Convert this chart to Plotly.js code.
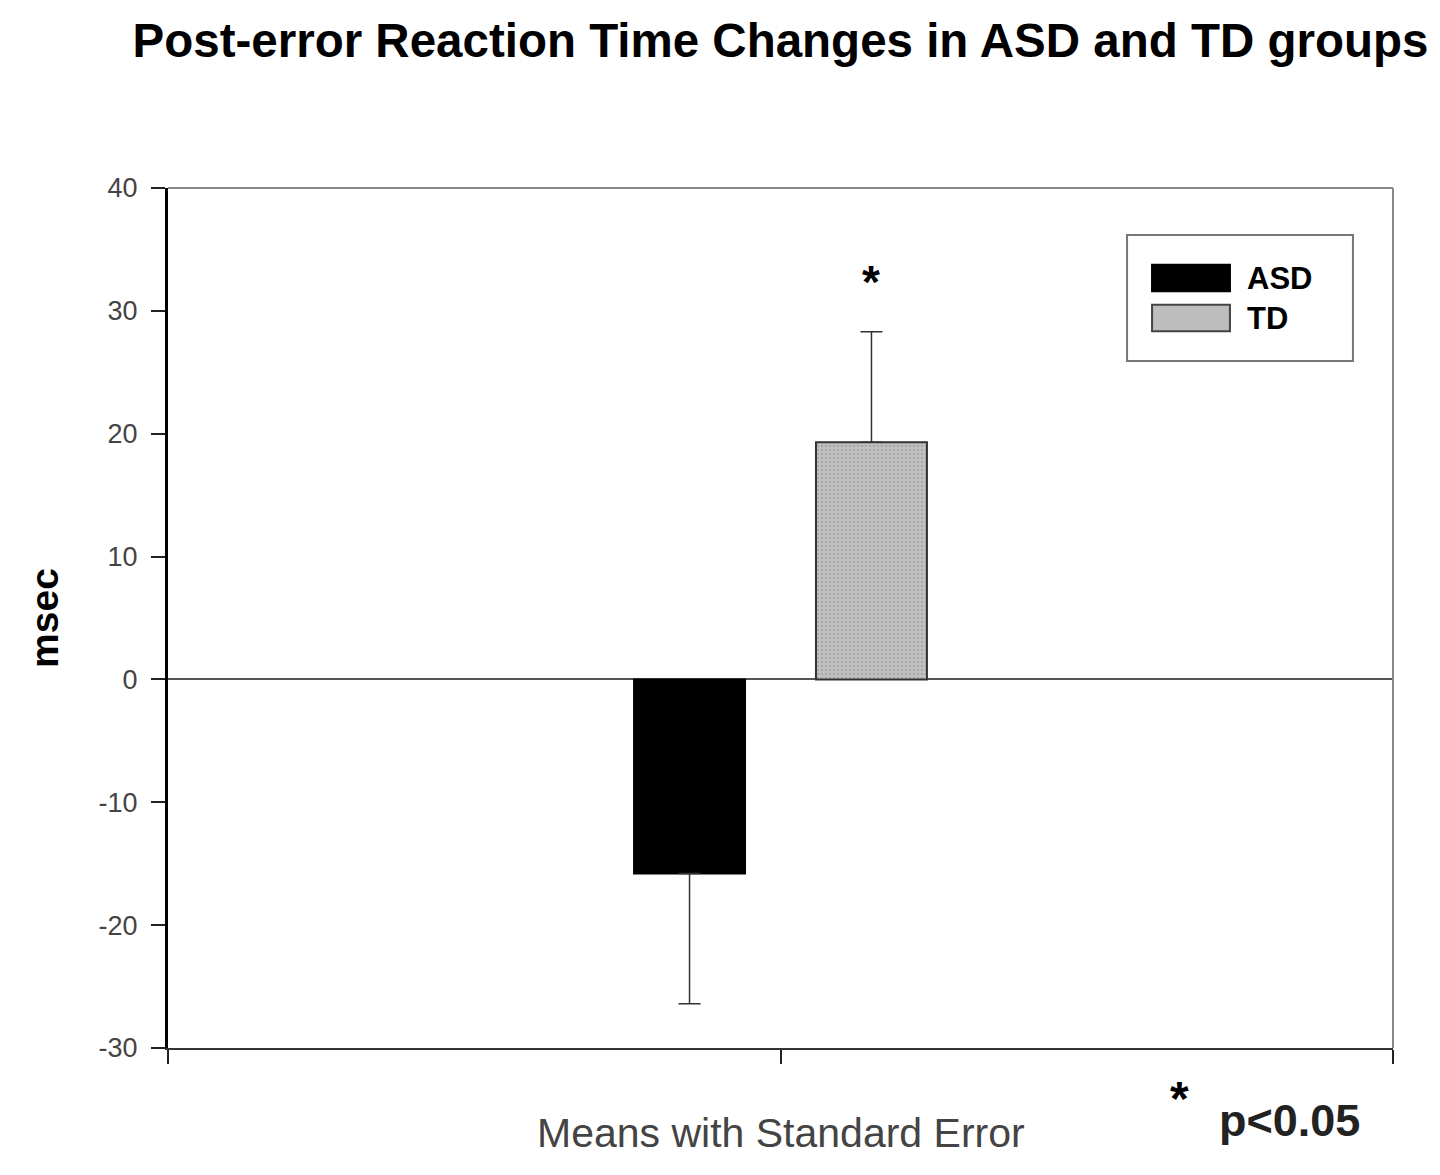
<!DOCTYPE html>
<html>
<head>
<meta charset="utf-8">
<script src="https://cdn.plot.ly/plotly-3.0.1.min.js"></script>
<style>
  body { margin: 0; background: #fff; }
  #chart { width: 1440px; height: 1175px; }
</style>
</head>
<body>
<div id="chart"></div>
<script>
// values (msec)
const groups = ['ASD', 'TD'];
const means = [-15.8, 19.3];
const seUp = [0, 9.0];
const seDown = [10.6, 0];
const barColors = ['#000000', '#bdbdbd'];
const yTicks = [-30, -20, -10, 0, 10, 20, 30, 40];
const yTickText = ['-30', '-20', '-10', '0', '10', '20', '30', '40'];

const font = 'Liberation Sans, Arial, sans-serif';
const bargap = 0.703;
const slot = (1 - bargap) / 2;

var data = groups.map((g, i) => ({
    type: 'bar',
    name: g,
    x: [0],
    y: [means[i]],
    marker: {
        color: barColors[i],
        line: { color: i === 0 ? '#000' : '#333', width: 2 },
        pattern: i === 1 ? { shape: '.', fgcolor: '#a8a8a8', bgcolor: '#c2c2c2', size: 4, solidity: 0.35 } : undefined
    },
    error_y: {
        type: 'data',
        symmetric: false,
        array: [seUp[i]],
        arrayminus: [seDown[i]],
        color: '#333',
        thickness: 1.5,
        width: 11
    },
    showlegend: false
}));

// hand-made legend, like the original big swatches
var legendShapes = [
    { type: 'rect', xref: 'paper', yref: 'paper', x0: 0.7829, x1: 0.9673, y0: 0.7988, y1: 0.9453,
      line: { color: '#777', width: 2 }, fillcolor: '#fff' }
];
var legendRows = [0.8953, 0.8488];
var legendAnn = [];
groups.forEach((g, i) => {
    legendShapes.push({
        type: 'rect', xref: 'paper', yref: 'paper',
        x0: 0.8033, x1: 0.8669, y0: legendRows[i] - 0.0155, y1: legendRows[i] + 0.0155,
        fillcolor: barColors[i], line: { color: i === 0 ? '#000' : '#444', width: 2 }
    });
    legendAnn.push({
        xref: 'paper', yref: 'paper', x: 0.8790, y: legendRows[i], xanchor: 'left', yanchor: 'middle',
        text: '<b>' + g + '</b>', showarrow: false, font: { family: font, size: 31, color: '#000' }
    });
});

var frame = [
    { type: 'line', xref: 'paper', yref: 'paper', x0: 0, x1: 1, y0: 1, y1: 1, line: { color: '#888', width: 2 } },
    { type: 'line', xref: 'paper', yref: 'paper', x0: 1, x1: 1, y0: 0, y1: 1, line: { color: '#888', width: 2 } }
];

var layout = {
    width: 1440,
    height: 1175,
    margin: { l: 168, r: 47, t: 188, b: 127 },
    paper_bgcolor: '#fff',
    plot_bgcolor: '#fff',
    barmode: 'group',
    bargap: bargap,
    bargroupgap: 0.39,
    title: {
        text: '<b>Post-error Reaction Time Changes in ASD and TD groups</b>',
        x: 0.542, xanchor: 'center', y: 0.966, yanchor: 'middle',
        font: { family: font, size: 47.5, color: '#000' }
    },
    xaxis: {
        range: [-0.5, 0.5],
        tickvals: [-0.5, 0, 0.5],
        showticklabels: false,
        ticks: 'outside', ticklen: 14, tickwidth: 2, tickcolor: '#222',
        showline: true, linecolor: '#333', linewidth: 2,
        showgrid: false, zeroline: false, fixedrange: true
    },
    yaxis: {
        range: [-30, 40],
        tickvals: yTicks,
        ticktext: yTickText,
        ticks: 'outside', ticklen: 14, tickwidth: 2, tickcolor: '#222',
        ticklabelstandoff: 8,
        tickfont: { family: font, size: 27, color: '#444' },
        showline: true, linecolor: '#000', linewidth: 3,
        showgrid: false,
        zeroline: true, zerolinecolor: '#555', zerolinewidth: 2,
        title: { text: '<b>msec</b>', standoff: 28, font: { family: font, size: 39, color: '#000' } }
    },
    shapes: frame.concat(legendShapes),
    annotations: legendAnn.concat([
        { x: slot / 2, y: means[1] + seUp[1], yshift: 50, text: '<b>*</b>', showarrow: false,
          font: { family: font, size: 46, color: '#000' } },
        { xref: 'paper', yref: 'paper', x: 0.5, y: -0.099, yanchor: 'middle', text: 'Means with Standard Error',
          showarrow: false, font: { family: font, size: 41, color: '#444' } },
        { xref: 'paper', yref: 'paper', x: 0.835, y: -0.059, yanchor: 'middle', text: '<b>*</b>',
          showarrow: false, font: { family: font, size: 48, color: '#000' } },
        { xref: 'paper', yref: 'paper', x: 0.856, y: -0.084, xanchor: 'left', yanchor: 'middle', text: '<b>p&lt;0.05</b>',
          showarrow: false, font: { family: font, size: 45, color: '#222' } }
    ])
};

Plotly.newPlot('chart', data, layout, { displayModeBar: false, staticPlot: true });
</script>
</body>
</html>
